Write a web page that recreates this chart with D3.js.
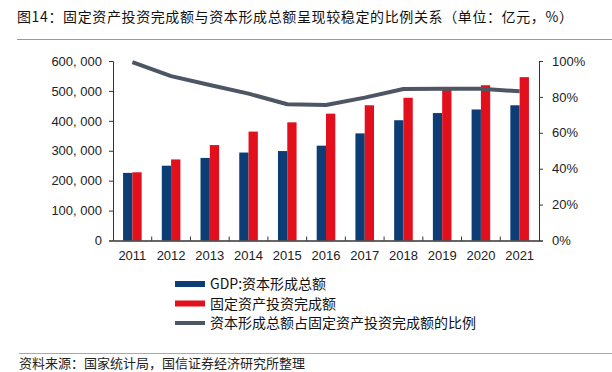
<!DOCTYPE html>
<html><head><meta charset="utf-8">
<script src="https://cdn.jsdelivr.net/npm/d3@7"></script>
<style>
html,body{margin:0;padding:0;background:#fff;}
svg{display:block;}
text{font-family:"Liberation Sans","Noto Sans CJK SC",sans-serif;}
.cjk{font-family:"Noto Sans CJK SC","Liberation Sans",sans-serif;}
</style></head>
<body>
<script>
const years = ["2011","2012","2013","2014","2015","2016","2017","2018","2019","2020","2021"];
const gdpCapital = [226000,250000,276000,294000,299000,317000,358000,402000,426000,438000,452000];
const fixedInvest = [228000,271000,319000,364000,395000,424000,452000,477000,507000,519000,546000];
const ratio = [99.4,91.6,86.6,81.8,75.9,75.5,79.6,84.4,84.6,84.6,83.1];
const leftTicks = [0,100000,200000,300000,400000,500000,600000];
const rightTicks = [0,20,40,60,80,100];
const seriesNames = ["GDP:资本形成总额","固定资产投资完成额","资本形成总额占固定资产投资完成额的比例"];
const colors = ["#0d3d75","#e1101c","#4d5665"];

const W=612,H=372;
const svg=d3.select("body").append("svg").attr("width",W).attr("height",H);

// title
svg.append("text").attr("class","cjk").attr("x",17).attr("y",22).attr("font-size",14).attr("fill","#111")
  .attr("textLength",556).attr("lengthAdjust","spacing")
  .text("图14：固定资产投资完成额与资本形成总额呈现较稳定的比例关系（单位：亿元，%）");
svg.append("line").attr("x1",17).attr("x2",612).attr("y1",39.5).attr("y2",39.5).attr("stroke","#999").attr("stroke-width",1);

const x=d3.scaleBand().domain(years).range([113,539]).paddingInner(0).paddingOuter(0);
const x1=d3.scaleBand().domain([0,1]).range([0,18.6]);
const yL=d3.scaleLinear().domain([0,600000]).range([240.5,61]);
const yR=d3.scaleLinear().domain([0,100]).range([240.5,61]);

const fmt=v=>d3.format(",")(v).replace(/,/g,", ");

// left axis
const gL=svg.append("g").attr("transform","translate(113,0)")
  .call(d3.axisLeft(yL).tickValues(leftTicks).tickFormat(fmt).tickSize(4).tickPadding(7));
gL.selectAll("text").attr("font-size",13).attr("fill","#222");
gL.select(".domain").attr("stroke","#333");
gL.selectAll(".tick line").attr("stroke","#333");

// right axis
const gR=svg.append("g").attr("transform","translate(539,0)")
  .call(d3.axisRight(yR).tickValues(rightTicks).tickFormat(d=>d+"%").tickSize(4).tickPadding(9));
gR.selectAll("text").attr("font-size",13).attr("fill","#222");
gR.select(".domain").attr("stroke","#333");
gR.selectAll(".tick line").attr("stroke","#333");

// bars
const cx=d=>x(d)+x.bandwidth()/2;
const gBars=svg.append("g");
[gdpCapital,fixedInvest].forEach((arr,si)=>{
  gBars.selectAll(null).data(years).enter().append("rect")
    .attr("x",(d)=>cx(d)-9.3+x1(si))
    .attr("width",x1.bandwidth())
    .attr("y",(d,i)=>yL(arr[i]))
    .attr("height",(d,i)=>yL(0)-yL(arr[i]))
    .attr("fill",colors[si]);
});

// x axis
const gX=svg.append("g").attr("transform","translate(0,240.5)")
  .call(d3.axisBottom(x).tickSize(0).tickPadding(10));
gX.selectAll("text").attr("font-size",13).attr("fill","#222");
gX.select(".domain").attr("stroke","#333").attr("stroke-width",1.5);
// inward tick marks at category boundaries
svg.append("g").selectAll("line").data(years.slice(1)).enter().append("line")
  .attr("x1",d=>x(d)).attr("x2",d=>x(d)).attr("y1",240.5).attr("y2",236.5).attr("stroke","#333");

// line
const line=d3.line().x((d,i)=>cx(years[i])).y(d=>yR(d));
svg.append("path").datum(ratio).attr("d",line).attr("fill","none")
  .attr("stroke",colors[2]).attr("stroke-width",4).attr("stroke-linejoin","round");

// legend
const lg=svg.append("g");
const ly=[284,303.5,323];
seriesNames.forEach((n,i)=>{
  lg.append("rect").attr("x",175).attr("width",30).attr("y",ly[i]-(i<2?3:2)).attr("height",i<2?6:4).attr("fill",colors[i]);
  lg.append("text").attr("class","cjk").attr("x",210).attr("y",ly[i]+5).attr("font-size",14).attr("fill","#111").text(n);
});

// footer
svg.append("line").attr("x1",19).attr("x2",612).attr("y1",353.5).attr("y2",353.5).attr("stroke","#aaa").attr("stroke-width",1);
svg.append("text").attr("class","cjk").attr("x",19).attr("y",368).attr("font-size",13).attr("fill","#222")
  .text("资料来源：国家统计局，国信证券经济研究所整理");
</script>
</body></html>
